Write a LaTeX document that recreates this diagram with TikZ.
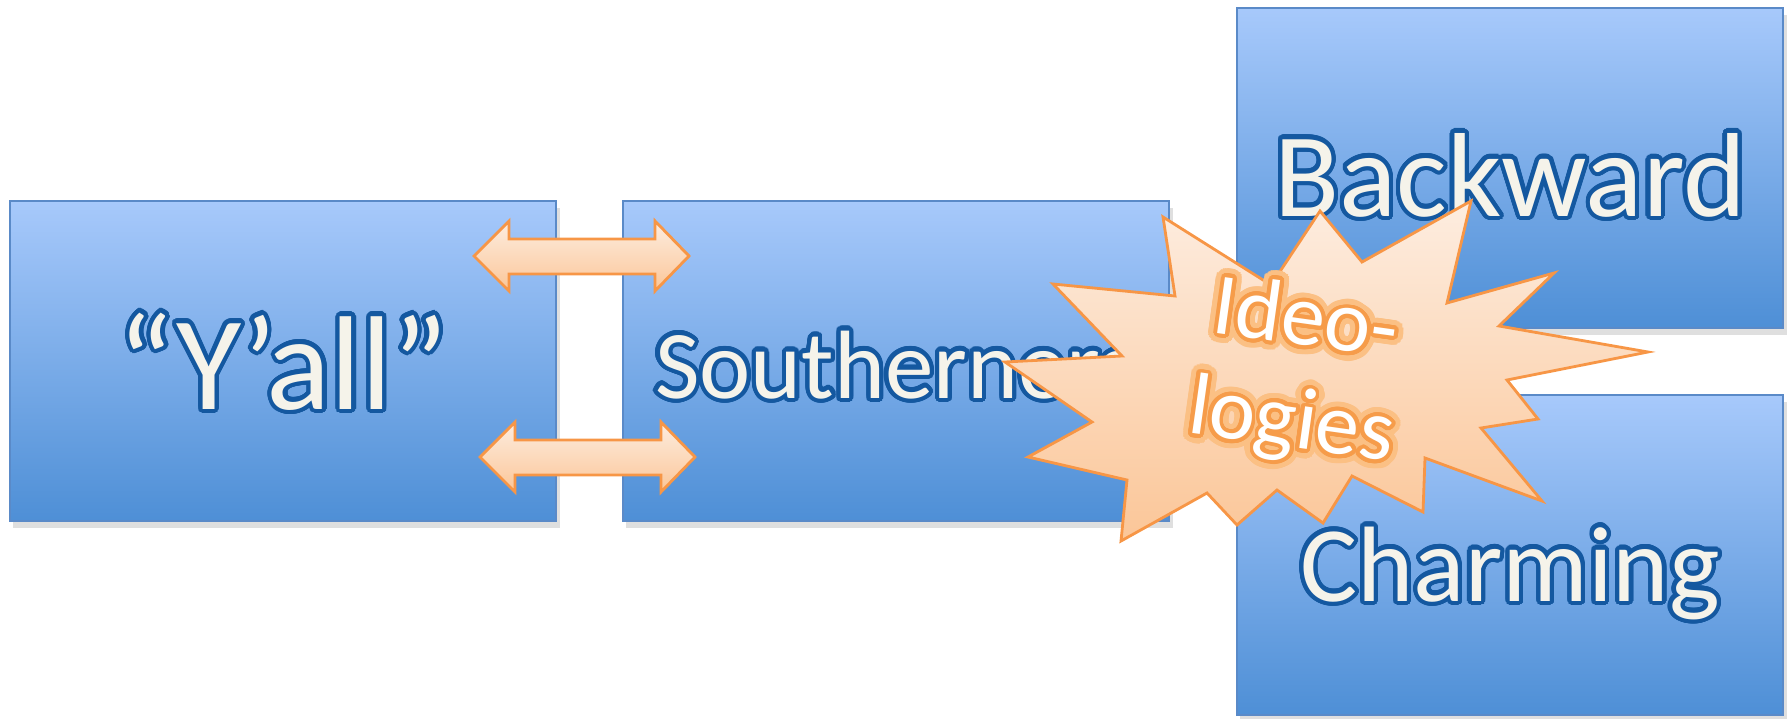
\documentclass[tikz,border=0pt]{standalone}
\usepackage{fontspec}
\setmainfont{Carlito}
\usepackage{contour}
\usetikzlibrary{shadows}

\definecolor{boxtop}{RGB}{167,201,251}
\definecolor{boxbot}{RGB}{78,143,214}
\definecolor{boxline}{RGB}{90,138,200}
\definecolor{txtfill}{RGB}{245,243,234}
\definecolor{txtline}{RGB}{20,88,160}
\definecolor{peachtop}{RGB}{253,237,224}
\definecolor{peachbot}{RGB}{251,198,152}
\definecolor{peachline}{RGB}{247,150,70}
\definecolor{glowout}{RGB}{251,192,132}
\definecolor{glowin}{RGB}{246,156,74}

\contournumber{32}
\newcommand{\boxtext}[1]{\contourlength{1.2pt}\contour{txtline}{#1}}
\newcommand{\glowtext}[1]{\makebox[0pt][l]{\contourlength{2.6pt}\contour{glowout}{#1}}\contourlength{1.1pt}\contour{glowin}{#1}}

\tikzset{
  bluebox/.style={draw=boxline, line width=0.6pt, top color=boxtop, bottom color=boxbot,
    minimum width=5.46cm, minimum height=3.2cm, inner sep=0pt, text=txtfill, text depth=0pt,
    drop shadow={opacity=0.25, shadow xshift=1pt, shadow yshift=-2pt}},
  peach/.style={draw=peachline, line width=0.8pt, top color=peachtop, bottom color=peachbot, line join=miter}
}

\begin{document}
\begin{tikzpicture}[x=0.01cm, y=-0.01cm]
  \useasboundingbox (0,0) rectangle (1791,718);

  % the four boxes
  \node[bluebox, text height=0.96cm, font=\fontsize{38}{46}\selectfont] (yall) at (283,361) {\boxtext{“Y’all”}};
  \node[bluebox, text height=0.74cm, font=\fontsize{27.6}{33}\selectfont] (south) at (896,361) {\boxtext{Southerners}};
  \node[bluebox, text height=0.96cm, font=\fontsize{34}{41}\selectfont] (backward) at (1510,168) {\boxtext{Backward}};
  \node[bluebox, text height=0.92cm, font=\fontsize{30.5}{37}\selectfont] (charming) at (1510,555) {\boxtext{Charming}};

  % block arrows between the first two boxes
  \foreach \ax/\ay in {474/256, 480/457}
    \draw[peach, shift={(\ax,\ay)}] (0,0) -- (35,-35) -- (35,-17) -- (181,-17) -- (181,-35) -- (215,0)
      -- (181,35) -- (181,18) -- (35,18) -- (35,35) -- cycle;

  % starburst
  \draw[peach] (1163,217) -- (1271,285) -- (1320,211) -- (1362,262) -- (1471,201) -- (1447,303)
    -- (1554,273) -- (1499,326) -- (1648,352) -- (1507,380) -- (1538,419) -- (1481,428)
    -- (1542,501) -- (1425,458) -- (1423,512) -- (1352,476) -- (1323,523) -- (1277,490)
    -- (1237,525) -- (1207,493) -- (1121,541) -- (1127,480) -- (1028,457) -- (1092,422)
    -- (1005,362) -- (1122,356) -- (1053,284) -- (1175,296) -- cycle;
  \node[rotate=-8, align=center, text=white, font=\fontsize{25}{29.3}\selectfont] (ideo) at (1298,378)
    {\glowtext{Ideo-}\\\glowtext{logies}};
\end{tikzpicture}
\end{document}
